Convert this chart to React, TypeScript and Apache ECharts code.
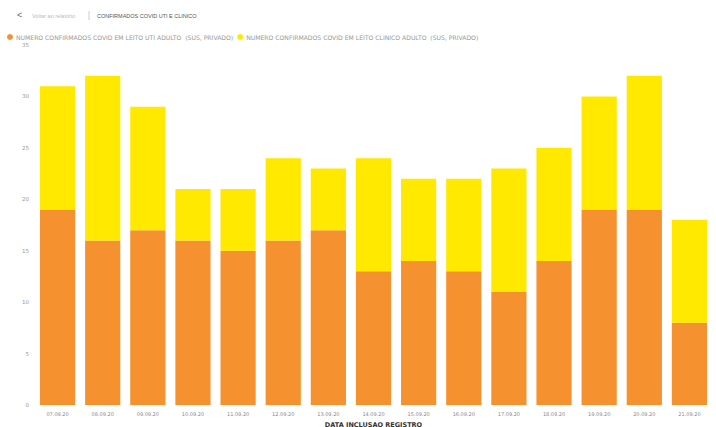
import React, { useEffect, useRef } from "react";
import * as echarts from "echarts";

const categories = ["07.09.20","08.09.20","09.09.20","10.09.20","11.09.20","12.09.20","13.09.20","14.09.20","15.09.20","16.09.20","17.09.20","18.09.20","19.09.20","20.09.20","21.09.20"];
const utiValues = [19,16,17,16,15,16,17,13,14,13,11,14,19,19,8];
const clinicoValues = [12,16,12,5,6,8,6,11,8,9,12,11,11,13,10];
const yTicks = { min: 0, max: 35, interval: 5 };
const seriesNames = [
  "NUMERO CONFIRMADOS COVID EM LEITO UTI ADULTO  (SUS, PRIVADO)",
  "NUMERO CONFIRMADOS COVID EM LEITO CLINICO ADULTO  (SUS, PRIVADO)",
];

export default function App() {
  const ref = useRef<HTMLDivElement>(null);
  useEffect(() => {
    const chart = echarts.init(ref.current!, null, { renderer: "svg" });
    chart.setOption({
      animation: false,
      backgroundColor: "#ffffff",
      textStyle: { fontFamily: "DejaVu Sans" },
      graphic: [
        { type: "text", left: 17, top: 10, style: { text: "<", fontSize: 9, fill: "#666" } },
        { type: "text", left: 32, top: 13, style: { text: "Voltar ao relatório", fontSize: 5.5, fill: "#bbb" } },
        { type: "line", shape: { x1: 89, y1: 11, x2: 89, y2: 20 }, style: { stroke: "#ccc", lineWidth: 1 } },
        { type: "text", left: 97, top: 13, style: { text: "CONFIRMADOS COVID UTI E CLINICO", fontSize: 5.5, fill: "#555" } },
      ],
      legend: {
        left: 2,
        top: 29,
        icon: "circle",
        itemWidth: 6,
        itemHeight: 6,
        itemGap: 4,
        textStyle: { fontSize: 6.1, color: "#999", padding: [0, 0, 0, -2] },
        data: seriesNames,
      },
      grid: { left: 35, right: 4, top: 45, bottom: 22, outerBoundsMode: "none" },
      xAxis: {
        type: "category",
        data: categories,
        axisLine: { show: false },
        axisTick: { show: false },
        axisLabel: { fontSize: 5, color: "#888", margin: 6 },
        name: "DATA INCLUSAO REGISTRO",
        nameLocation: "middle",
        nameGap: 16,
        nameTextStyle: { fontSize: 6.5, fontWeight: "bold", color: "#333" },
      },
      yAxis: {
        type: "value",
        min: yTicks.min,
        max: yTicks.max,
        interval: yTicks.interval,
        splitLine: { show: false },
        axisLine: { show: false },
        axisTick: { show: false },
        axisLabel: { fontSize: 5.5, color: "#999", margin: 6 },
      },
      series: [
        {
          name: seriesNames[0],
          type: "bar",
          stack: "total",
          data: utiValues,
          barCategoryGap: "22%",
          itemStyle: { color: "#F5922F" },
        },
        {
          name: seriesNames[1],
          type: "bar",
          stack: "total",
          data: clinicoValues,
          barCategoryGap: "22%",
          itemStyle: { color: "#FFE900" },
        },
      ],
    });
    return () => chart.dispose();
  }, []);
  return (
    <div
      ref={ref}
      style={{ position: "fixed", left: 0, top: 0, width: 716, height: 427 }}
    />
  );
}
